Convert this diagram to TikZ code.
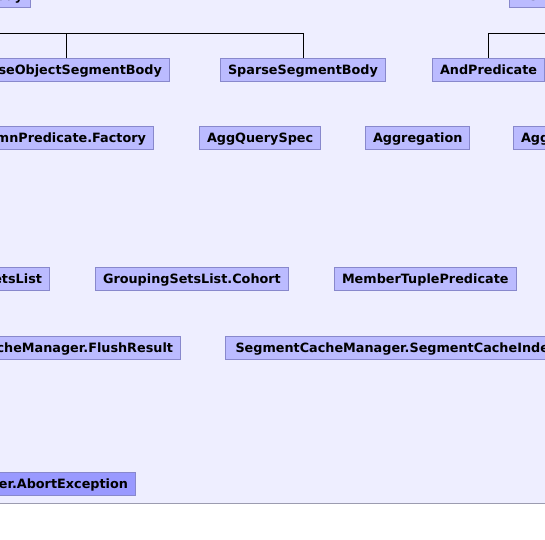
\documentclass[tikz,border=0pt]{standalone}
\usepackage{fontspec}
\setmainfont{DejaVu Sans}
\usepackage{tikz}
\usetikzlibrary{positioning}
\definecolor{pagebg}{HTML}{EEEEFF}
\definecolor{boxfill}{HTML}{BBBBFF}
\definecolor{boxline}{HTML}{8888CC}
\definecolor{abortfill}{HTML}{9999FF}
\definecolor{rulegray}{HTML}{9C9CB0}

\begin{document}
\begin{tikzpicture}[x=1pt,y=-1pt,
				class node/.style={rectangle,fill=boxfill,draw=boxline,line width=1pt,
					font=\fontsize{12.8}{15}\selectfont\bfseries,
					text height=9.3pt,text depth=0pt,minimum height=23pt,inner xsep=7.5pt},
				abort node/.style={class node,fill=abortfill}]
				
				\useasboundingbox (0,0) rectangle (545,539);
				\fill[pagebg] (0,0) rectangle (545,503);
				\draw[rulegray,line width=1pt] (0,503) -- (545,503);
				\clip (0,0) rectangle (545,539);
				
				% top row (parents)
				\node[class node,anchor=south east] (segbody) at (31,8) {AbstractSegmentBody};
				\node[class node,anchor=south west] (listpred) at (509,8) {ListPredicate};
				
				% children
				\node[class node,anchor=north east] (denseobj) at (170,58) {DenseObjectSegmentBody};
				\node[class node,anchor=north west] (sparse) at (220,58) {SparseSegmentBody};
				\node[class node,anchor=north west] (andpred) at (432,58) {AndPredicate};
				
				\node[class node,anchor=north east] (factory) at (154,126) {AbstractColumnPredicate.Factory};
				\node[class node,anchor=north west] (aggspec) at (199,126) {AggQuerySpec};
				\node[class node,anchor=north west] (aggregation) at (365,126) {Aggregation};
				\node[class node,anchor=north west] (aggkey) at (513,126) {AggregationKey};
				
				\node[class node,anchor=north east] (gslist) at (50,267) {GroupingSetsList};
				\node[class node,anchor=north west] (cohort) at (95,267) {GroupingSetsList.Cohort};
				\node[class node,anchor=north west] (tuplepred) at (334,267) {MemberTuplePredicate};
				
				\node[class node,anchor=north east] (flush) at (181,336) {SegmentCacheManager.FlushResult};
				\node[class node,anchor=north west,inner xsep=10pt] (registry) at (225,336) {SegmentCacheManager.SegmentCacheIndexRegistry};
				
				\node[abort node,anchor=north east] (abort) at (136,472) {SegmentCacheManager.AbortException};
				
				\path[draw,-,line width=1pt]
				(segbody.south) -- ++(0,25) -| (denseobj.north)
				(segbody.south) -- ++(0,25) -| (sparse.north)
				(listpred.south) -- ++(0,25) -| (andpred.north);
			\end{tikzpicture}
\end{document}
